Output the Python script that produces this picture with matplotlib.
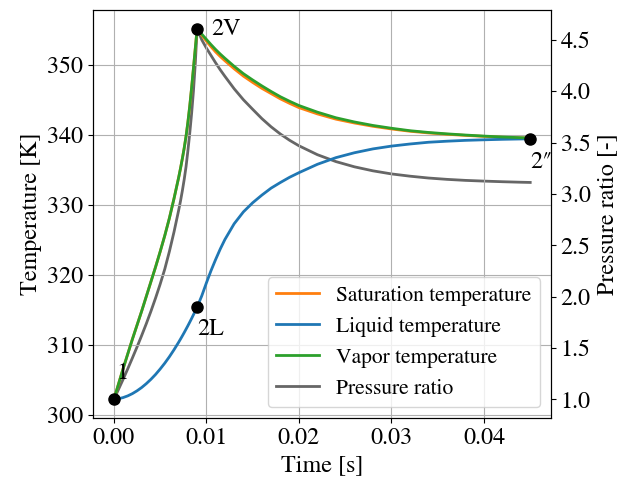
import matplotlib
matplotlib.use("Agg")
import matplotlib.pyplot as plt

plt.rcParams["font.family"] = ["STIXGeneral", "Liberation Serif", "DejaVu Serif"]
plt.rcParams["mathtext.fontset"] = "stix"
plt.rcParams["font.size"] = 17.3

# time axis [s]: compression (0 -> 9 ms), then relaxation to 45 ms
time_s = [0.0, 0.0005, 0.001, 0.0015, 0.002, 0.0025, 0.003, 0.0035, 0.004, 0.0045,
          0.005, 0.0055, 0.006, 0.0065, 0.007,
          0.0072, 0.0074, 0.0076, 0.0078, 0.008, 0.0082, 0.0084, 0.0086, 0.0088, 0.009,
          0.0095, 0.010, 0.0105, 0.011, 0.0115, 0.012, 0.013, 0.014, 0.015, 0.016,
          0.017, 0.018, 0.019, 0.020, 0.022, 0.024, 0.026, 0.028, 0.030, 0.032,
          0.034, 0.036, 0.038, 0.040, 0.042, 0.044, 0.045]

# temperatures [K]
t_sat = [302.2, 304.4, 306.6, 308.7, 310.8, 312.8, 314.8, 316.9, 319.0, 321.1,
         323.3, 325.6, 328.1, 330.9, 333.9,
         335.2, 336.6, 338.1, 339.8, 341.8, 344.1, 346.7, 349.5, 352.35, 355.2,
         354.25, 353.4, 352.6, 351.85, 351.2, 350.6, 349.45, 348.4, 347.5, 346.65,
         345.9, 345.15, 344.5, 343.9, 343.0, 342.25, 341.7, 341.23, 340.85, 340.52,
         340.28, 340.09, 339.93, 339.79, 339.66, 339.58, 339.55]
t_liq = [302.2, 302.3, 302.47, 302.71, 303.03, 303.43, 303.9, 304.45, 305.07, 305.76,
         306.54, 307.38, 308.3, 309.3, 310.37,
         310.82, 311.28, 311.75, 312.24, 312.73, 313.24, 313.76, 314.3, 314.84, 315.4,
         317.0, 318.85, 320.6, 322.2, 323.7, 325.05, 327.3, 329.0, 330.3, 331.4,
         332.4, 333.2, 333.95, 334.6, 335.8, 336.75, 337.45, 338.0, 338.4, 338.7,
         338.95, 339.1, 339.22, 339.3, 339.37, 339.42, 339.45]
t_vap = [302.2, 304.4, 306.6, 308.7, 310.8, 312.8, 314.8, 316.9, 319.0, 321.1,
         323.3, 325.6, 328.1, 330.9, 333.9,
         335.2, 336.6, 338.1, 339.8, 341.8, 344.1, 346.7, 349.5, 352.35, 355.2,
         354.4, 353.65, 352.9, 352.2, 351.55, 350.95, 349.8, 348.75, 347.85, 347.0,
         346.2, 345.45, 344.8, 344.2, 343.25, 342.45, 341.85, 341.35, 340.95, 340.6,
         340.35, 340.15, 339.98, 339.83, 339.7, 339.6, 339.57]

# pressure ratio [-]
p_ratio = [1.000, 1.098, 1.196, 1.298, 1.403, 1.510, 1.621, 1.736, 1.857, 1.985,
           2.121, 2.268, 2.44, 2.63, 2.84,
           2.93, 3.03, 3.14, 3.265, 3.42, 3.59, 3.78, 4.00, 4.27, 4.61,
           4.50, 4.42, 4.348, 4.276, 4.208, 4.145, 4.024, 3.917, 3.824, 3.733,
           3.653, 3.583, 3.522, 3.469, 3.382, 3.315, 3.264, 3.225, 3.195, 3.173,
           3.155, 3.142, 3.132, 3.125, 3.119, 3.114, 3.112]

# state points
state_labels = ["1", "2V", "2L", "2\u2033"]
state_t = [0.0, 0.009, 0.009, 0.045]
state_T = [302.2, 355.2, 315.4, 339.45]
label_offsets = [(2, 14.5), (10, -4.7), (0, -20), (0, -21)]

fig, ax = plt.subplots(figsize=(6.33, 4.82), dpi=100)
fig.subplots_adjust(left=0.147, right=0.8705, bottom=0.1328, top=0.9793)
ax2 = ax.twinx()
ax.set_zorder(ax2.get_zorder() + 1)
ax.patch.set_visible(False)

l_sat, = ax.plot(time_s, t_sat, color="tab:orange", linewidth=2, label="Saturation temperature")
l_liq, = ax.plot(time_s, t_liq, color="tab:blue", linewidth=2, label="Liquid temperature")
l_vap, = ax.plot(time_s, t_vap, color="tab:green", linewidth=2, label="Vapor temperature")
l_p, = ax2.plot(time_s, p_ratio, color="0.4", linewidth=2, label="Pressure ratio")

ax.plot(state_t, state_T, "o", color="black", markersize=8, zorder=5)
for lab, x, y, off in zip(state_labels, state_t, state_T, label_offsets):
    ax.annotate(lab, (x, y), xytext=off, textcoords="offset points",
                ha="left", va="baseline", clip_on=True)

ax.set_xlabel("Time [s]")
ax.set_ylabel("Temperature [K]")
ax2.set_ylabel("Pressure ratio [-]")
ax.grid(True)

ax.legend(handles=[l_sat, l_liq, l_vap, l_p], loc="lower right", fontsize=15.5)

fig.savefig("out.png", dpi=100)
